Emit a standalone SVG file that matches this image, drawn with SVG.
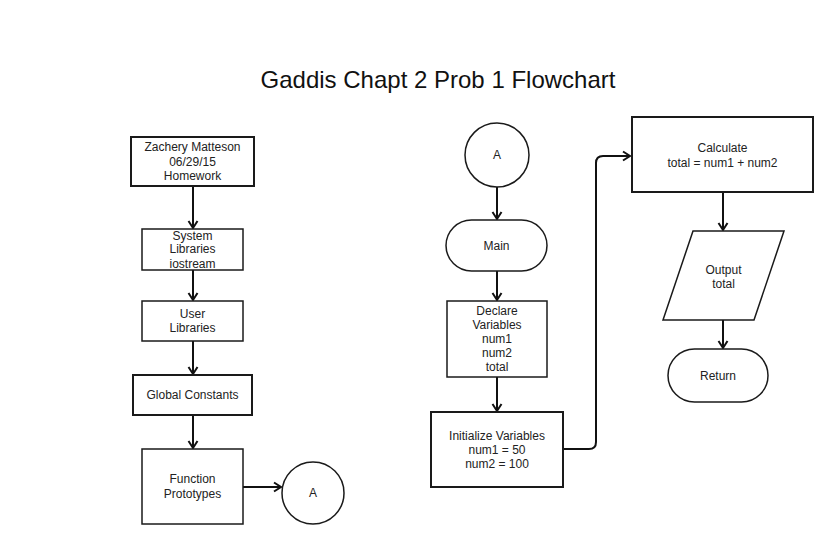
<svg xmlns="http://www.w3.org/2000/svg" width="839" height="544" viewBox="0 0 839 544">
<style>
  .shape { fill: #ffffff; stroke: #1a1a1a; stroke-width: 1.5; }
  .thick { stroke-width: 2; }
  .label { font-family: "Liberation Sans", Arial, sans-serif; font-size: 12px; fill: #222222; text-anchor: middle; }
  .title { font-family: "Liberation Sans", Arial, sans-serif; font-size: 24px; fill: #111111; text-anchor: middle; }
  .conn { fill: none; stroke: #111111; stroke-width: 2; marker-end: url(#arrow); }
</style>
<defs>
  <marker id="arrow" markerWidth="12" markerHeight="12" refX="9" refY="6" orient="auto" markerUnits="userSpaceOnUse">
    <path d="M 2 1.5 L 9 6 L 2 10.5" fill="none" stroke="#111111" stroke-width="2"/>
  </marker>
</defs>
<rect width="839" height="544" fill="#ffffff"/>
<text class="title" x="438" y="88">Gaddis Chapt 2 Prob 1 Flowchart</text>

<g id="connectors">
  <path class="conn" d="M 193 186 L 193 228"/>
  <path class="conn" d="M 193 270 L 193 300"/>
  <path class="conn" d="M 193 341 L 193 374"/>
  <path class="conn" d="M 193 415 L 193 448"/>
  <path class="conn" d="M 243 487 L 281 487"/>
  <path class="conn" d="M 497 187 L 497 219"/>
  <path class="conn" d="M 497 271 L 497 300"/>
  <path class="conn" d="M 497 377 L 497 411"/>
  <path class="conn" d="M 563 449 L 589 449 Q 596 449 596 442 L 596 163 Q 596 156 603 156 L 630 156"/>
  <path class="conn" d="M 723 192 L 723 230"/>
  <path class="conn" d="M 723 320 L 723 348"/>
</g>

<g id="node-header">
  <rect class="shape thick" x="131" y="137" width="123" height="49"/>
  <text class="label" x="192.5" y="151">Zachery Matteson</text>
  <text class="label" x="192.5" y="166">06/29/15</text>
  <text class="label" x="192.5" y="180">Homework</text>
</g>
<g id="node-syslib">
  <rect class="shape" x="142" y="229" width="101" height="41"/>
  <text class="label" x="192.5" y="240">System</text>
  <text class="label" x="192.5" y="253">Libraries</text>
  <text class="label" x="192.5" y="268">iostream</text>
</g>
<g id="node-userlib">
  <rect class="shape" x="142" y="301" width="101" height="40"/>
  <text class="label" x="192.5" y="318">User</text>
  <text class="label" x="192.5" y="332">Libraries</text>
</g>
<g id="node-global">
  <rect class="shape thick" x="133" y="375" width="119" height="40"/>
  <text class="label" x="192.5" y="399">Global Constants</text>
</g>
<g id="node-proto">
  <rect class="shape" x="142" y="449" width="101" height="75"/>
  <text class="label" x="192.5" y="483">Function</text>
  <text class="label" x="192.5" y="498">Prototypes</text>
</g>
<g id="node-connA-left">
  <circle class="shape" cx="313" cy="493" r="31"/>
  <text class="label" x="313" y="497">A</text>
</g>

<g id="node-connA-right">
  <circle class="shape" cx="497" cy="155" r="32"/>
  <text class="label" x="497" y="159">A</text>
</g>
<g id="node-main">
  <rect class="shape" x="446" y="220" width="101" height="51" rx="25.5" ry="25.5"/>
  <text class="label" x="496.5" y="250">Main</text>
</g>
<g id="node-declare">
  <rect class="shape" x="447" y="301" width="100" height="76"/>
  <text class="label" x="497" y="315">Declare</text>
  <text class="label" x="497" y="329">Variables</text>
  <text class="label" x="497" y="343">num1</text>
  <text class="label" x="497" y="357">num2</text>
  <text class="label" x="497" y="371">total</text>
</g>
<g id="node-init">
  <rect class="shape thick" x="431" y="412" width="132" height="75"/>
  <text class="label" x="497" y="440">Initialize Variables</text>
  <text class="label" x="497" y="454">num1 = 50</text>
  <text class="label" x="497" y="468">num2 = 100</text>
</g>
<g id="node-calc">
  <rect class="shape thick" x="632" y="117" width="181" height="75"/>
  <text class="label" x="722.5" y="152">Calculate</text>
  <text class="label" x="722.5" y="167">total = num1 + num2</text>
</g>
<g id="node-output">
  <polygon class="shape" points="693,231 784,231 754,320 663,320"/>
  <text class="label" x="723.5" y="274">Output</text>
  <text class="label" x="723.5" y="288">total</text>
</g>
<g id="node-return">
  <rect class="shape" x="668" y="349" width="100" height="53" rx="26.5" ry="26.5"/>
  <text class="label" x="718" y="380">Return</text>
</g>
</svg>
